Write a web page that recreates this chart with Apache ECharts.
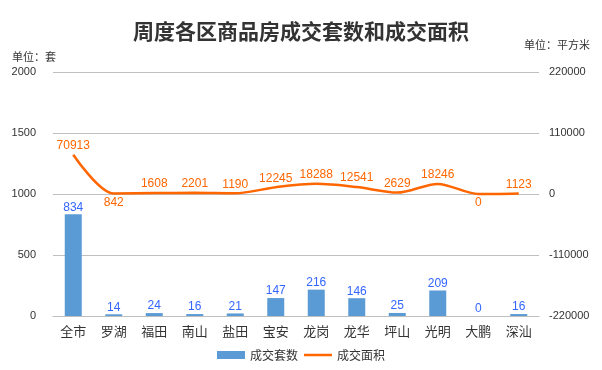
<!DOCTYPE html>
<html><head><meta charset="utf-8">
<script src="https://cdn.jsdelivr.net/npm/echarts@6/dist/echarts.min.js"></script>
<style>html,body{margin:0;padding:0;background:#fff}#c{width:602px;height:370px}</style>
</head><body><div id="c"></div>
<script>
const categories = ['全市','罗湖','福田','南山','盐田','宝安','龙岗','龙华','坪山','光明','大鹏','深汕'];
const units = [834,14,24,16,21,147,216,146,25,209,0,16];
const area = [70913,842,1608,2201,1190,12245,18288,12541,2629,18246,0,1123];
const belowIdx = [1,10];

const chart = echarts.init(document.getElementById('c'));
const font = '"Noto Sans CJK SC", sans-serif';
const num = 'Arial, "Liberation Sans", sans-serif';
chart.setOption({
  animation:false,
  title:{text:'周度各区商品房成交套数和成交面积',left:'center',top:16,
    textStyle:{fontFamily:'"Noto Sans CJK SC", serif',fontSize:21,fontWeight:'bold',color:'#333'}},
  grid:{left:53,right:63,top:72,bottom:54},
  legend:{bottom:4,left:'center',itemWidth:28,itemHeight:8,itemGap:6,
    textStyle:{fontFamily:font,fontSize:12,color:'#333'},
    data:[{name:'成交套数',icon:'rect'},{name:'成交面积',icon:'path://M0,0L28,0L28,2.5L0,2.5Z',itemStyle:{color:'#ff6600',opacity:1}}]},
  xAxis:{type:'category',data:categories,
    axisLine:{lineStyle:{color:'#bfbfbf'}},axisTick:{show:false},
    axisLabel:{fontFamily:font,fontSize:13,color:'#333',margin:9}},
  yAxis:[
    {type:'value',min:0,max:2000,interval:500,name:'单位：套',nameLocation:'end',
     nameGap:10,nameTextStyle:{fontFamily:font,fontSize:11,color:'#333',align:'left',padding:[0,0,0,-41]},
     axisLabel:{fontFamily:num,fontSize:11,color:'#333',margin:17,formatter:v=>String(v)},
     splitLine:{lineStyle:{color:'#c0c0c0'}},axisLine:{show:false},axisTick:{show:false}},
    {type:'value',min:-220000,max:220000,interval:110000,name:'单位：平方米',nameLocation:'end',
     nameGap:22,nameTextStyle:{fontFamily:font,fontSize:11,color:'#333',align:'right',padding:[0,-51,0,0]},
     axisLabel:{fontFamily:num,fontSize:11,color:'#333',margin:10,formatter:v=>String(v)},
     splitLine:{show:false},axisLine:{show:false},axisTick:{show:false}}
  ],
  series:[
    {name:'成交套数',type:'bar',data:units,barWidth:17,yAxisIndex:0,
     itemStyle:{color:'#5b9bd5'},
     label:{show:true,position:'top',distance:1,color:'#3366ff',fontFamily:num,fontSize:12}},
    {name:'成交面积',type:'line',data:area.map((v,i)=>belowIdx.includes(i)?{value:v,label:{position:'bottom'}}:v),
     yAxisIndex:1,smooth:0.3,symbol:'circle',symbolSize:0.01,showSymbol:true,
     lineStyle:{color:'#ff6600',width:2.5},itemStyle:{color:'#ff6600'},
     label:{show:true,position:'top',distance:3,color:'#ff6600',fontFamily:num,fontSize:12,formatter:p=>String(p.value)}}
  ]
});
</script></body></html>
